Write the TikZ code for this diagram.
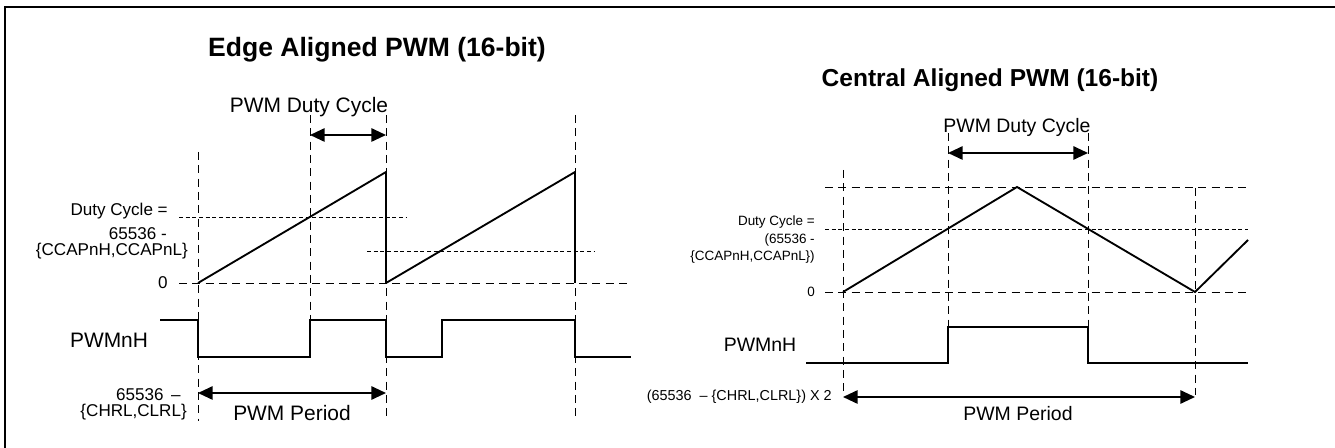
\documentclass[tikz,border=0pt]{standalone}
\usepackage{fontspec}
\setmainfont{Liberation Sans}
\usetikzlibrary{arrows.meta}

\begin{document}
\begin{tikzpicture}[x=0.75pt, y=-0.75pt, every node/.style={inner sep=0pt},
    sig/.style={line width=1.4pt},
    guide/.style={line width=0.7pt, dash pattern=on 6pt off 4pt},
    fineguide/.style={line width=0.7pt, dash pattern=on 3pt off 2pt},
    span/.style={line width=1.4pt, {Triangle[length=11pt,width=10pt]}-{Triangle[length=11pt,width=10pt]}},
    ttlA/.style={font=\fontsize{19.9}{22}\selectfont\bfseries},
    ttlB/.style={font=\fontsize{18.4}{21}\selectfont\bfseries},
    lblA/.style={font=\fontsize{15.7}{18}\selectfont},
    lblB/.style={font=\fontsize{14.6}{17}\selectfont},
    smlA/.style={font=\fontsize{12.8}{14}\selectfont, anchor=east},
    smlB/.style={font=\fontsize{10.1}{12}\selectfont, anchor=east}]
  \useasboundingbox (0,0) rectangle (1335,448);
  \draw[line width=1.5pt] (5,448) -- (5,7) -- (1335,7);

  % edge aligned
  \node[ttlA] (edgeTitle) at (377,50) {Edge Aligned PWM (16-bit)};
  \draw[guide] (198,152) -- (198,421);
  \draw[guide] (310,115) -- (310,320);
  \draw[guide] (386,115) -- (386,421);
  \draw[guide] (575,115) -- (575,421);
  \draw[guide] (179,283) -- (631,283);
  \draw[fineguide] (179,217) -- (406,217);
  \draw[fineguide] (367,251) -- (594,251);
  \draw[sig] (198,283) -- (386,172) -- (386,283) (386,283) -- (575,172) -- (575,283);
  \draw[sig] (160,320) -- (198,320) -- (198,357) -- (310,357) -- (310,320) -- (386,320)
    -- (386,357) -- (442,357) -- (442,320) -- (575,320) -- (575,357) -- (631,357);
  \coordinate (edgeDutyL) at (310,135);
  \coordinate (edgeDutyR) at (386,135);
  \draw[span] (edgeDutyL) -- (edgeDutyR);
  \node[lblA] (edgeDuty) at (309,107) {PWM Duty Cycle};
  \coordinate (edgePerL) at (198,393);
  \coordinate (edgePerR) at (386,393);
  \draw[span] (edgePerL) -- (edgePerR);
  \node[lblA] (edgePeriod) at (292,413) {PWM Period};
  \node[lblA] (edgeOut) at (109,340) {PWMnH};
  \node[smlA] (edgeCmpA) at (168,211) {Duty Cycle =};
  \node[smlA] (edgeCmpB) at (167,234) {65536 -};
  \node[smlA] (edgeCmpC) at (188,251) {\{CCAPnH,CCAPnL\}};
  \node[smlA] (edgeZero) at (168,283) {0};
  \node[smlA] (edgeTopA) at (181,395) {65536 \,–};
  \node[smlA] (edgeTopB) at (187,412) {\{CHRL,CLRL\}};

  % central aligned
  \node[ttlB] (ctrTitle) at (990,80) {Central Aligned PWM (16-bit)};
  \draw[guide] (843,170) -- (843,395);
  \draw[guide] (948,133) -- (948,327);
  \draw[guide] (1088,133) -- (1088,327);
  \draw[guide] (1195,188) -- (1195,395);
  \draw[guide] (825,187) -- (1248,187);
  \draw[guide] (825,292) -- (1248,292);
  \draw[fineguide] (825,229) -- (1248,229);
  \draw[sig] (843,292) -- (1017,187) -- (1195,292) -- (1248,240);
  \draw[sig] (806,363) -- (948,363) -- (948,327) -- (1088,327) -- (1088,363) -- (1248,363);
  \coordinate (ctrDutyL) at (948,153);
  \coordinate (ctrDutyR) at (1088,153);
  \draw[span] (ctrDutyL) -- (ctrDutyR);
  \node[lblB] (ctrDuty) at (1017,127) {PWM Duty Cycle};
  \coordinate (ctrPerL) at (843,397);
  \coordinate (ctrPerR) at (1195,397);
  \draw[span] (ctrPerL) -- (ctrPerR);
  \node[lblB] (ctrPeriod) at (1018,414) {PWM Period};
  \node[lblB] (ctrOut) at (760,345) {PWMnH};
  \node[smlB] (ctrCmpA) at (815,222) {Duty Cycle =};
  \node[smlB] (ctrCmpB) at (815,240) {(65536 -};
  \node[smlB] (ctrCmpC) at (815,257) {\{CCAPnH,CCAPnL\})};
  \node[smlB] (ctrZero) at (815,292) {0};
  \node[smlB, font=\fontsize{10.8}{13}\selectfont] (ctrTop) at (832,397) {(65536 \ – \{CHRL,CLRL\}) X 2};
\end{tikzpicture}
\end{document}
